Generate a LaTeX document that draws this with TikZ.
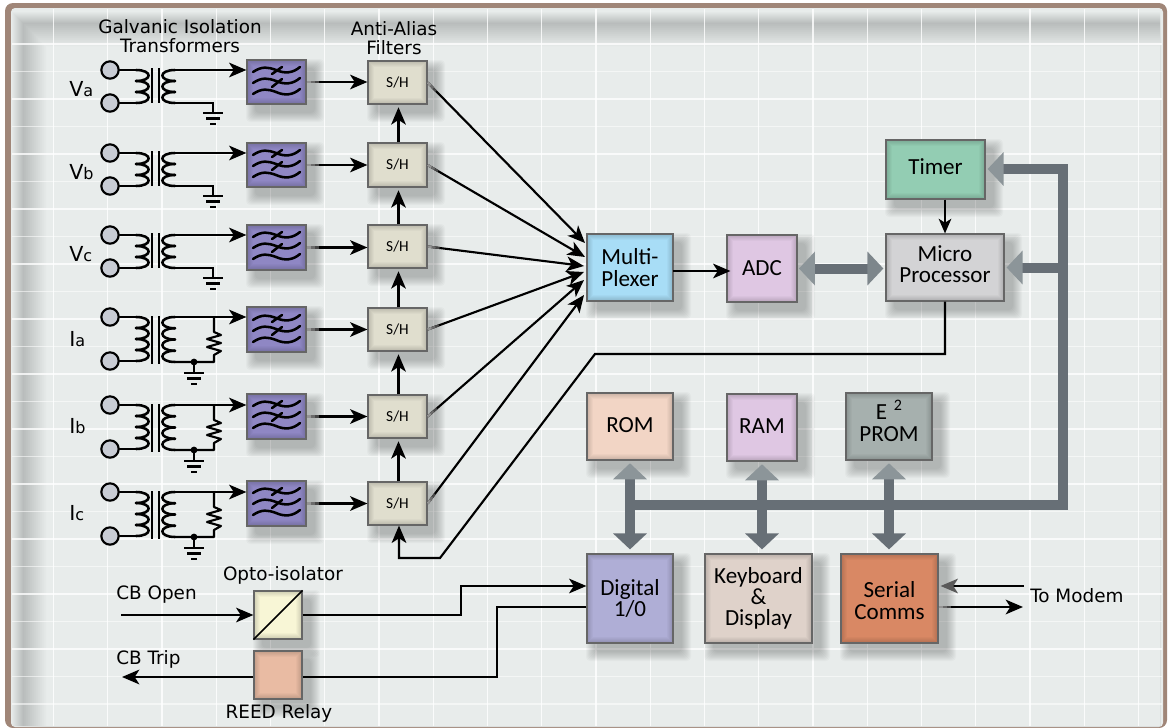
\documentclass[tikz,border=0pt]{standalone}
\usepackage{fontspec}
\setmainfont{DejaVu Sans}
\newfontfamily\boxfont{Carlito}
\usetikzlibrary{arrows.meta,calc}
\definecolor{panel}{HTML}{E8ECEB}
\definecolor{frameC}{HTML}{A08678}
\definecolor{busC}{HTML}{676F76}
\definecolor{busL}{HTML}{8C9599}
\definecolor{cFilter}{HTML}{8F87C4}
\definecolor{cSH}{HTML}{E0DECE}
\definecolor{cMux}{HTML}{A8DDF6}
\definecolor{cADC}{HTML}{DFC7E3}
\definecolor{cMicro}{HTML}{D3D3D5}
\definecolor{cTimer}{HTML}{93CDB3}
\definecolor{cROM}{HTML}{F2D5C5}
\definecolor{cE}{HTML}{A6B0AE}
\definecolor{cDig}{HTML}{AFAED6}
\definecolor{cKey}{HTML}{DFD2CA}
\definecolor{cSer}{HTML}{D98864}
\definecolor{cOpto}{HTML}{F8F6D6}
\definecolor{cReed}{HTML}{E9BBA3}
\definecolor{cTerm}{HTML}{C8CCD4}
\tikzset{
  x=0.75pt,y=-0.75pt,
  wire/.style={line width=1.6pt,black,line join=miter},
  wa/.style={wire,-{Stealth[length=13pt,width=11pt,inset=3.5pt]}},
  wg/.style={wire,-{Stealth[length=13pt,width=11pt,inset=3.5pt,color=black!65]}},
  sym/.style={line width=1.9pt,black,line cap=round},
  bus/.style={line width=7.5pt,busC},
  bh/.style={bus,-{Triangle[length=12pt,width=24.75pt,color=busL]}},
  bh2/.style={bus,{Triangle[length=12pt,width=24.75pt,color=busL]}-{Triangle[length=12pt,width=24.75pt,color=busC]}},
  bh3/.style={bus,{Triangle[length=12pt,width=24.75pt,color=busL]}-{Triangle[length=12pt,width=24.75pt,color=busL!60!busC]}},
  term/.style={circle,draw=black,line width=1.6pt,fill=cTerm,minimum size=13pt,inner sep=0pt},
  blk/.style={draw=black!60,line width=0.9pt,inner sep=0pt,align=center,text=black,
     font=\boxfont\fontsize{17.3}{16}\selectfont},
  lab/.style={inner sep=0pt,align=center,text=black,font=\fontsize{13.8}{14.2}\selectfont},
}
% name x1 y1 x2 y2 fill text
\newcommand{\blockbox}[7]{%
  \foreach \k in {0,...,9}{%
    \fill[black,opacity=0.024,rounded corners=3pt] (#2+\k-1,#3+\k-1) rectangle (#4+18-\k,#5+18-\k);}%
  \fill[#6] (#2,#3) rectangle (#4,#5);%
  \foreach \k in {0,...,5}{%
    \pgfmathsetmacro{\op}{0.16-0.027*\k}%
    \draw[black,opacity=\op,line width=0.75pt] (#2+\k+.5,#3+\k+.5) rectangle (#4-\k-.5,#5-\k-.5);}%
  \pgfmathsetmacro{\bw}{(#4-#2)*0.75}%
  \pgfmathsetmacro{\bh}{(#5-#3)*0.75}%
  \node[blk,minimum width=\bw pt,minimum height=\bh pt] (#1) at ({(#2+#4)/2},{(#3+#5)/2}) {#7};%
}
\newcommand{\upby}[2]{\raisebox{#1}[\height][\depth]{\begin{tabular}{@{}c@{}}#2\end{tabular}}}
% coil: x of cusp, x of bulge, y0, pitch, n
\newcommand{\coilsym}[5]{%
  \foreach \i in {1,...,#5}{%
    \pgfmathsetmacro{\ya}{#3+(\i-1)*#4}%
    \pgfmathsetmacro{\yb}{#3+\i*#4}%
    \draw[sym] (#1,\ya) .. controls ({#1+(#2-#1)*1.4},\ya) and ({#1+(#2-#1)*1.4},\yb) .. (#1,\yb);}%
}
\newcommand{\gndsym}[2]{%
  \draw[line width=1.6pt] (#1-10,#2) -- (#1+10,#2);
  \draw[line width=1.6pt] (#1-7,#2+5.5) -- (#1+7,#2+5.5);
  \draw[line width=2.2pt] (#1-3,#2+11) -- (#1+3,#2+11);
}
\newcommand{\filtersym}[1]{%
  \begin{scope}[shift={(0,#1)}]
  \foreach \d in {-11,0,11}{%
    \draw[sym] (253,\d+1) .. controls (262,\d-5) and (268,\d-4) .. (276,\d-1) .. controls (285,\d+3) and (293,\d+2) .. (300,\d-4);}
  \draw[sym] (272,-8) -- (282,-15);
  \draw[sym] (272,5) -- (282,-3);
  \end{scope}}
% voltage input: tag, y top
\newcommand{\xfmrV}[2]{%
  \node[term] (#1t) at (110,#2) {};
  \node[term] (#1u) at (110,#2+33) {};
  \draw[sym] (#1t.east) -- (136,#2);
  \draw[sym] (#1u.east) -- (136,#2+33);
  \coilsym{136}{148}{#2}{11}{3}
  \draw[line width=1.3pt] (152,#2-2) -- (152,#2+33);
  \draw[line width=1.3pt] (159,#2-2) -- (159,#2+33);
  \coilsym{175}{163}{#2}{11}{3}
  \coordinate (#1o) at (175,#2);
  \coordinate (#1g) at (213,#2+43);
  \draw[wire] (175,#2+33) -- (213,#2+33) -- (#1g);
  \gndsym{213}{#2+43}
}
\newcommand{\xfmrI}[2]{%
  \node[term] (#1t) at (110,#2) {};
  \node[term] (#1u) at (110,#2+44) {};
  \draw[sym] (#1t.east) -- (136,#2);
  \draw[sym] (#1u.east) -- (136,#2+44);
  \coilsym{136}{148}{#2}{11}{4}
  \draw[line width=1.3pt] (152,#2-1) -- (152,#2+47);
  \draw[line width=1.3pt] (159,#2-1) -- (159,#2+47);
  \coilsym{175}{163}{#2}{11.25}{4}
  \coordinate (#1o) at (175,#2);
  \draw[wire,line join=round] (214,#2) -- (214,#2+15) -- (221,#2+18) -- (207,#2+22) -- (221,#2+26) -- (207,#2+30) -- (221,#2+34) -- (214,#2+38) -- (214,#2+45) -- (175,#2+45);
  \fill (194,#2+45) circle (3.4);
  \draw[wire] (194,#2+45) -- (194,#2+56);
  \gndsym{194}{#2+56}
}
% wire start fading out of a block's shadow
\newcommand{\fadeseg}[2]{%
  \foreach \d/\c in {9/72,6/58,3/42}{\draw[line width=1.6pt,black!\c] #1 -- ($#1!\d pt!#2$);}%
}
\begin{document}
\begin{tikzpicture}
\useasboundingbox (0,0) rectangle (1168,728);
\fill[white] (0,0) rectangle (1168,728);
\fill[frameC,rounded corners=6pt] (5,3) rectangle (1167,728);
\fill[panel,rounded corners=3pt] (11,8) rectangle (1163,727);
% inner shadow
\foreach \k in {0,...,11}{%
  \fill[black,opacity=0.016,even odd rule] (12+\k,12+\k) rectangle (1160,726) (46-2*\k,46-2*\k) rectangle (1160,726);}
% grid
\foreach \i in {0,...,20}{\draw[white,line width=1.1pt,opacity=0.8] ({53.5+54.25*\i},9) -- ({53.5+54.25*\i},726);}
\foreach \i in {0,...,24}{\draw[white,line width=1pt,opacity=0.55] (12,{44+27.5*\i}) -- (1162,{44+27.5*\i});}
\foreach \i in {0,...,11}{\draw[white,line width=1pt,opacity=0.5] (12,{44+55*\i}) -- (1162,{44+55*\i});}
% labels
\node[lab] (ltitle) at (180,36) {Galvanic Isolation\\Transformers};
\node[lab] (lanti) at (394,38) {Anti-Alias\\Filters};
\newcommand{\phlab}[2]{\fontsize{15.5}{16}\selectfont #1{\fontsize{12}{12}\selectfont #2}}
\node[lab,anchor=base west] (lva) at (69,96) {\phlab{V}{a}};
\node[lab,anchor=base west] (lvb) at (69,179) {\phlab{V}{b}};
\node[lab,anchor=base west] (lvc) at (69,261) {\phlab{V}{c}};
\node[lab,anchor=base west] (lia) at (69,346) {\phlab{I}{a}};
\node[lab,anchor=base west] (lib) at (69,433) {\phlab{I}{b}};
\node[lab,anchor=base west] (lic) at (69,520) {\phlab{I}{c}};
\node[lab,anchor=west] (lopen) at (116,595) {CB Open};
\node[lab,anchor=west] (ltrip) at (116,659) {CB Trip};
\node[lab] (lopto) at (283,575) {Opto-isolator};
\node[lab] (lreed) at (279,713) {REED Relay};
\node[lab,anchor=west] (lmodem) at (1030,596) {To Modem};
% filter and S/H blocks
\newcommand{\shtxt}{\fontsize{11.5}{11}\selectfont S/H}
\blockbox{fa}{247}{60}{306}{104}{cFilter}{}
\blockbox{fb}{247}{143}{306}{187}{cFilter}{}
\blockbox{fc}{247}{225}{306}{270}{cFilter}{}
\blockbox{fd}{247}{307}{306}{352}{cFilter}{}
\blockbox{fe}{247}{394}{306}{439}{cFilter}{}
\blockbox{ff}{247}{481}{306}{526}{cFilter}{}
\filtersym{82}\filtersym{165}\filtersym{247}\filtersym{330}\filtersym{416}\filtersym{503}
\blockbox{sa}{368}{61}{427}{104}{cSH}{\shtxt}
\blockbox{sb}{368}{143}{427}{187}{cSH}{\shtxt}
\blockbox{sc}{368}{225}{427}{268}{cSH}{\shtxt}
\blockbox{sd}{368}{308}{427}{351}{cSH}{\shtxt}
\blockbox{se}{368}{395}{427}{438}{cSH}{\shtxt}
\blockbox{sf}{368}{482}{427}{525}{cSH}{\shtxt}
% main blocks
\blockbox{mux}{587}{234}{673}{301}{cMux}{Multi-\\Plexer}
\blockbox{adc}{727}{235}{797}{302}{cADC}{ADC}
\blockbox{micro}{886}{234}{1004}{301}{cMicro}{\upby{0pt}{Micro\\Processor}}
\blockbox{timer}{886}{140}{985}{199}{cTimer}{\upby{0pt}{Timer}}
\blockbox{rom}{587}{393}{673}{460}{cROM}{\upby{-1.5pt}{ROM}}
\blockbox{ram}{727}{394}{797}{461}{cADC}{\upby{-1.5pt}{RAM}}
\blockbox{eprom}{846}{393}{932}{460}{cE}{\upby{2pt}{E\hspace{5pt}\raisebox{7pt}{\fontsize{12}{11}\selectfont 2}\\PROM}}
\blockbox{dig}{587}{554}{673}{643}{cDig}{Digital\\1/0}
\blockbox{key}{705}{554}{812}{643}{cKey}{Keyboard\\\&\\Display}
\blockbox{ser}{841}{554}{938}{643}{cSer}{\upby{-4pt}{Serial\\Comms}}
\blockbox{opto}{254}{591}{302}{639}{cOpto}{}
\blockbox{reed}{254}{651}{302}{699}{cReed}{}
\draw[line width=1.2pt] (opto.south west) -- (opto.north east);
% transformers
\xfmrV{xa}{70}\xfmrV{xb}{153}\xfmrV{xc}{235}
\xfmrI{xd}{317}\xfmrI{xe}{405}\xfmrI{xf}{492}
\foreach \t/\n in {xa/fa,xb/fb,xc/fc,xd/fd,xe/fe,xf/ff}{
  \draw[wa] (\t o) -- (\t o -| \n.west);}
\foreach \n/\m in {fa/sa,fb/sb,fc/sc,fd/sd,fe/se,ff/sf}{
  \draw[wa] (\n.east) -- (\n.east -| \m.west);
  \fadeseg{(\n.east)}{(\n.east -| \m.west)}}
% S/H chain
\foreach \n/\m in {sb/sa,sc/sb,sd/sc,se/sd,sf/se}{
  \draw[wa,shorten >=2pt] ($(\n.north)+(1,0)$) -- ($(\m.south)+(1,0)$);}
% to multiplexer
\coordinate (ma) at (585,243);\coordinate (mb) at (585,257);\coordinate (mc) at (584,266);
\coordinate (md) at (584,272);\coordinate (me) at (584,280);\coordinate (mf) at (584,295);
\foreach \n/\m in {sa/ma,sb/mb,sc/mc,sd/md,se/me,sf/mf}{
  \draw[wa] (\n.east) -- (\m);
  \fadeseg{(\n.east)}{(\m)}}
\coordinate (muxo) at (673,271);
\draw[wa] (muxo) -- ([xshift=3pt]muxo -| adc.west);
% micro control
\coordinate (mc1) at (595,354);\coordinate (mc2) at (440,558);\coordinate (mc3) at (399,558);
\draw[wa] (micro.south) |- (mc1) -- (mc2) -- (mc3) -- (sf.south -| mc3);
\draw[wire,line width=1.2pt,-{Stealth[length=11pt,width=9.5pt,inset=3pt]}] (micro.north |- timer.south) -- (micro.north);
% bus
\coordinate (busa) at (1063,169);\coordinate (busb) at (1063,505);\coordinate (busc) at (626,505);
\draw[bus] (1063,164) -- (1063,510);
\draw[bus] (1063,505) -- (busc);
\draw[bh] (1063,169) -- ([xshift=1.5pt]busa -| timer.east);
\draw[bh] (busa |- micro.east) -- ([xshift=1.5pt]micro.east);
\draw[bh3] ([xshift=1pt]adc.east) -- ([xshift=-1.5pt]adc.east -| micro.west);
\draw[bh2] ([yshift=-2pt]rom.south) -- ([yshift=3pt]rom.south |- dig.north);
\draw[bh2] ([yshift=-2pt]ram.south) -- ([yshift=3pt]ram.south |- key.north);
\draw[bh2] ([yshift=-2pt]eprom.south) -- ([yshift=3pt]eprom.south |- ser.north);
% digital I/O
\coordinate (cbo) at (121,615);\coordinate (cbt) at (122,677);
\draw[wa] (cbo) -- (opto.west);
\coordinate (o1) at (461,615);\coordinate (o2) at (461,586);
\draw[wa] (opto.east) -- (o1) -- (o2) -- (o2 -| dig.west);
\coordinate (r1) at (497,607);\coordinate (r2) at (497,677);
\draw[wire] (r1 -| dig.west) -- (r1) -- (r2) -- (r2 -| reed.east);
\draw[wa] (cbt -| reed.west) -- (cbt);
% modem
\coordinate (ma1) at (1024,586);\coordinate (ma2) at (1023,607);
\draw[wg] (ma1) -- ([xshift=1.5pt]ma1 -| ser.east);
\draw[wa] (ma2 -| ser.east) -- (ma2);
\fadeseg{(ma2 -| ser.east)}{(ma2)}
\end{tikzpicture}
\end{document}
